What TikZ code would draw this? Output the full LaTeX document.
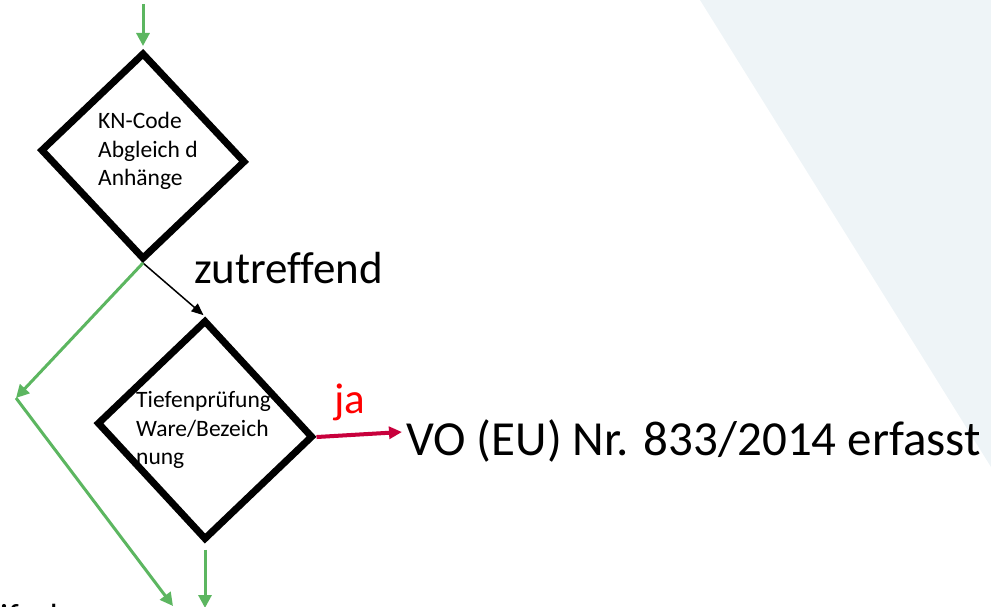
\documentclass[tikz,border=0pt]{standalone}
\usepackage{fontspec}
\setmainfont{Carlito}[Ligatures=NoCommon]
\usetikzlibrary{shapes.geometric,arrows.meta}
\definecolor{flowgreen}{RGB}{92,182,96}
\definecolor{jared}{RGB}{200,0,60}
\definecolor{bgtint}{RGB}{238,244,247}
\begin{document}
\begin{tikzpicture}[x=1pt,y=-1pt,
  dia/.style={diamond, draw=black, line width=7pt, inner sep=0pt, transform shape},
  dtext/.style={font=\fontsize{23.5}{28.5}\selectfont, align=left, anchor=west, inner sep=0pt},
  garrow/.style={draw=flowgreen, line width=3pt, -{Triangle[length=13pt,width=13pt]}},
  barrow/.style={draw=black, line width=1.5pt, -{Triangle[length=12pt,width=10pt]}},
  rarrow/.style={draw=jared, line width=4pt, -{Triangle[length=13pt,width=12pt]}},
  bigtext/.style={anchor=base west, inner sep=0pt}]
\useasboundingbox (0,0) rectangle (991,607);
% background tint
\fill[bgtint] (700,0) -- (991,0) -- (991,467) -- cycle;

% decision diamonds
\node[dia, minimum width=205pt, minimum height=207pt, yslant=-0.057] (d1) at (143,156) {};
\node[dtext] (t1) at (98,151) {KN-Code\\Abgleich d\\Anhänge};

\node[dia, minimum width=216pt, minimum height=220pt, yslant=-0.063] (d2) at (205,430) {};
\node[dtext] (t2) at (136,430) {Tiefenprüfung\\Ware/Bezeich\\nung};

% labels
\node[bigtext, font=\fontsize{45}{54}\selectfont] (zu) at (194,283) {zutreffend};
\node[bigtext, font=\fontsize{43}{52}\selectfont, text=red] (ja) at (334,413) {ja};
\node[bigtext, font=\fontsize{49}{59}\selectfont] (vo) at (406,455) {VO (EU) Nr. 833/2014 erfasst};
\node[bigtext, font=\fontsize{35}{42}\selectfont] (cut) at (0,628) {ifach};

% free ends
\coordinate (top) at (143,4);
\coordinate (gbend) at (16,398);
\coordinate (gend1) at (173,606);
\coordinate (gend2) at (205,608);
\coordinate (rend) at (402,432);

% connectors
\draw[garrow, shorten >=3pt] (top) -- (d1.north);
\draw[barrow, shorten >=2pt] (d1.south) -- (d2.north);
\draw[garrow] (d1.south) -- (gbend);
\draw[garrow] (gbend) -- (gend1);
\draw[garrow, shorten <=6pt] (d2.south) -- (gend2);
\draw[rarrow] (d2.east) -- (rend);
\end{tikzpicture}
\end{document}
